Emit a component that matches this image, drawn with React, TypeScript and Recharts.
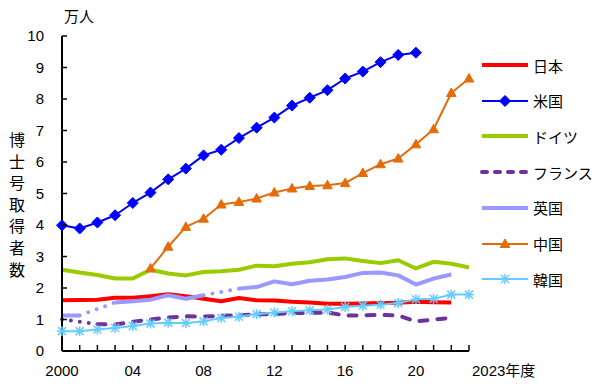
import React from "react"
import { LineChart, Line, XAxis, YAxis } from "recharts"

const years = [
  2000, 2001, 2002, 2003, 2004, 2005, 2006, 2007, 2008, 2009, 2010, 2011,
  2012, 2013, 2014, 2015, 2016, 2017, 2018, 2019, 2020, 2021, 2022, 2023,
]
const japan = [1.61, 1.62, 1.63, 1.69, 1.69, 1.74, 1.8, 1.74, 1.66, 1.58, 1.68, 1.61, 1.6, 1.56, 1.54, 1.5, 1.5, 1.51, 1.52, 1.53, 1.56, 1.55, 1.54, null]
const usa = [3.99, 3.89, 4.08, 4.31, 4.7, 5.03, 5.45, 5.79, 6.21, 6.39, 6.76, 7.09, 7.41, 7.79, 8.04, 8.28, 8.65, 8.87, 9.17, 9.4, 9.47, null, null, null]
const germany = [2.58, 2.49, 2.41, 2.3, 2.3, 2.58, 2.46, 2.4, 2.51, 2.53, 2.58, 2.71, 2.69, 2.77, 2.82, 2.91, 2.94, 2.86, 2.79, 2.88, 2.62, 2.83, 2.77, 2.65]
const france = [1.01, null, 0.85, 0.84, 0.93, 1.0, 1.06, 1.1, 1.09, 1.12, 1.13, 1.17, 1.17, 1.21, 1.21, 1.22, 1.13, 1.13, 1.15, 1.13, 0.94, 1.0, 1.05, null]
const uk = [1.13, 1.13, null, 1.54, 1.58, 1.63, 1.77, 1.66, 1.77, null, 1.98, 2.03, 2.21, 2.12, 2.23, 2.27, 2.35, 2.48, 2.49, 2.4, 2.11, 2.3, 2.43, null]
const china = [null, null, null, null, null, 2.62, 3.31, 3.94, 4.2, 4.65, 4.73, 4.84, 5.03, 5.16, 5.24, 5.26, 5.33, 5.65, 5.93, 6.11, 6.56, 7.04, 8.19, 8.65]
const korea = [0.63, 0.63, 0.68, 0.73, 0.79, 0.87, 0.9, 0.89, 0.94, 1.05, 1.09, 1.17, 1.22, 1.26, 1.29, 1.32, 1.4, 1.44, 1.47, 1.52, 1.64, 1.66, 1.79, 1.79]

const yTicks = [0, 1, 2, 3, 4, 5, 6, 7, 8, 9, 10]
const xLabels: Record<number, string> = { 2000: "2000", 2004: "04", 2008: "08", 2012: "12", 2016: "16", 2020: "20" }
const lastLabel = "2023年度"
const unitLabel = "万人"
const axisTitle = "博士号取得者数"

const FONT = "'Liberation Sans', Arial, 'Noto Sans CJK JP', sans-serif"

type Marker = "diamond" | "triangle" | "star" | null
interface Series {
  key: string
  name: string
  values: (number | null)[]
  color: string
  width: number
  dash?: string
  marker: Marker
  bridge: boolean
}

const series: Series[] = [
  { key: "japan", name: "日本", values: japan, color: "#FF0000", width: 4, marker: null, bridge: false },
  { key: "usa", name: "米国", values: usa, color: "#0000FF", width: 2, marker: "diamond", bridge: false },
  { key: "germany", name: "ドイツ", values: germany, color: "#99CC00", width: 4, marker: null, bridge: false },
  { key: "france", name: "フランス", values: france, color: "#7030A0", width: 4, dash: "8 10", marker: null, bridge: true },
  { key: "uk", name: "英国", values: uk, color: "#9999FF", width: 4, marker: null, bridge: true },
  { key: "china", name: "中国", values: china, color: "#E46C0A", width: 2, marker: "triangle", bridge: false },
  { key: "korea", name: "韓国", values: korea, color: "#66CCFF", width: 2, marker: "star", bridge: false },
]

// one two-point series per interior gap, drawn dotted
function gapsOf(values: (number | null)[]) {
  const out: (number | null)[][] = []
  for (let i = 1; i < values.length; i++) {
    if (values[i] == null && values[i - 1] != null) {
      let j = i
      while (j < values.length && values[j] == null) j++
      if (j < values.length) {
        const g = values.map(() => null as number | null)
        g[i - 1] = values[i - 1]
        g[j] = values[j]
        out.push(g)
      }
    }
  }
  return out
}

const bridges: { key: string; color: string }[] = []
const rows = years.map((year, i) => {
  const row: Record<string, number | null> = { year }
  series.forEach(s => (row[s.key] = s.values[i]))
  return row
})
series.filter(s => s.bridge).forEach(s => {
  gapsOf(s.values).forEach((g, n) => {
    const k = `${s.key}_gap${n}`
    bridges.push({ key: k, color: s.color })
    g.forEach((v, i) => (rows[i][k] = v))
  })
})

function markerShape(m: Marker, cx: number, cy: number, color: string) {
  if (m === "diamond")
    return <polygon points={`${cx},${cy - 5.5} ${cx + 5.5},${cy} ${cx},${cy + 5.5} ${cx - 5.5},${cy}`} fill={color} stroke={color} />
  if (m === "triangle")
    return <polygon points={`${cx},${cy - 5} ${cx + 4.8},${cy + 3.5} ${cx - 4.8},${cy + 3.5}`} fill={color} stroke={color} />
  if (m === "star") {
    const r = 4
    return (
      <g stroke={color} strokeWidth={1.5}>
        <line x1={cx - r} y1={cy - r} x2={cx + r} y2={cy + r} />
        <line x1={cx - r} y1={cy + r} x2={cx + r} y2={cy - r} />
        <line x1={cx} y1={cy - r - 1} x2={cx} y2={cy + r + 1} />
        <line x1={cx - r - 1} y1={cy} x2={cx + r + 1} y2={cy} />
      </g>
    )
  }
  return null
}

const XTick = (props: any) => {
  const { x, y, payload } = props
  const v = payload.value as number
  const label = v === 2023 ? lastLabel : xLabels[v]
  return (
    <g>
      <line x1={x} x2={x} y1={y} y2={y - 6} stroke="#000" strokeWidth={1.5} />
      {label && (
        <text x={v === 2023 ? x + 3 : x} y={y + 25} textAnchor={v === 2023 ? "start" : "middle"} fontSize={15} fill="#000" fontFamily={FONT}>
          {label}
        </text>
      )}
    </g>
  )
}

const YTick = (props: any) => {
  const { x, y, payload } = props
  return (
    <g>
      <line x1={x} x2={x + 5} y1={y} y2={y} stroke="#000" strokeWidth={1.5} />
      <text x={x - 18} y={y + 5} textAnchor="end" fontSize={15} fill="#000" fontFamily={FONT}>
        {payload.value}
      </text>
    </g>
  )
}

function LegendBox() {
  return (
    <div style={{ position: "absolute", left: 480, top: 47, width: 120, fontFamily: FONT, fontSize: 15 }}>
      {series.map((s, i) => (
        <div key={s.key} style={{ position: "absolute", top: i * 35.7, left: 0, height: 36, display: "flex", alignItems: "center" }}>
          <svg width={52} height={36} style={{ display: "block" }}>
            <line
              x1={2} x2={48} y1={18} y2={18}
              stroke={s.color}
              strokeWidth={s.width}
              strokeDasharray={s.dash ? "5 8" : undefined}
              strokeLinecap={s.dash ? "round" : "butt"}
            />
            {markerShape(s.marker, 25, 18, s.color)}
          </svg>
          <span style={{ marginLeft: 1, color: "#000", whiteSpace: "nowrap" }}>{s.name}</span>
        </div>
      ))}
    </div>
  )
}

export default function App() {
  return (
    <div style={{ position: "absolute", left: 0, top: 0, width: 600, height: 384, background: "#fff", fontFamily: FONT }}>
      <LineChart width={600} height={384} data={rows} margin={{ top: 36, right: 131, bottom: 0, left: 0 }}>
        <XAxis
          dataKey="year"
          type="number"
          domain={[2000, 2023]}
          ticks={years}
          interval={0}
          height={33}
          tickSize={0}
          tickMargin={0}
          tickLine={false}
          axisLine={{ stroke: "#000", strokeWidth: 2 }}
          tick={<XTick />}
        />
        <YAxis
          type="number"
          domain={[0, 10]}
          ticks={yTicks}
          interval={0}
          width={62}
          tickSize={0}
          tickMargin={0}
          tickLine={false}
          axisLine={{ stroke: "#000", strokeWidth: 2 }}
          tick={<YTick />}
        />
        {bridges.map(b => (
          <Line
            key={b.key}
            dataKey={b.key}
            stroke={b.color}
            strokeWidth={4}
            strokeDasharray="0 9"
            strokeLinecap="round"
            connectNulls
            dot={false}
            activeDot={false}
            isAnimationActive={false}
          />
        ))}
        {series.map(s => (
          <Line
            key={s.key}
            dataKey={s.key}
            name={s.name}
            type="linear"
            stroke={s.color}
            strokeWidth={s.width}
            strokeDasharray={s.dash}
            strokeLinecap={s.dash ? "round" : "butt"}
            strokeLinejoin="round"
            connectNulls={false}
            activeDot={false}
            isAnimationActive={false}
            dot={
              s.marker
                ? (p: any) => (
                    <g key={`${s.key}-${p.index}`}>
                      {p.value != null && p.cx != null && p.cy != null ? markerShape(s.marker, p.cx, p.cy, s.color) : null}
                    </g>
                  )
                : false
            }
          />
        ))}
      </LineChart>
      <div style={{ position: "absolute", left: 64, top: 5, fontSize: 15, color: "#000" }}>{unitLabel}</div>
      <div style={{ position: "absolute", left: 8, top: 130, width: 18, fontSize: 16, color: "#000" }}>
        {axisTitle.split("").map((c, i) => (
          <div key={i} style={{ height: 21.6, lineHeight: "21.6px", textAlign: "center" }}>{c}</div>
        ))}
      </div>
      <LegendBox />
    </div>
  )
}
